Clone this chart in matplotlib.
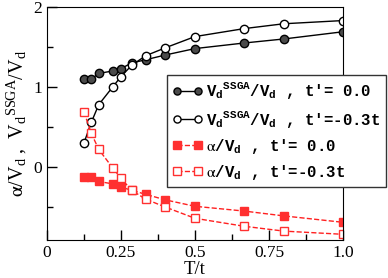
import matplotlib
matplotlib.use("Agg")
import matplotlib.pyplot as plt
from matplotlib.ticker import MultipleLocator

plt.rcParams['font.family'] = 'Liberation Serif'
plt.rcParams['mathtext.fontset'] = 'stix'

T = [0.125, 0.15, 0.175, 0.222, 0.25, 0.286, 0.333, 0.4, 0.5, 0.667, 0.8, 1.0]
vssga_t0 = [1.10, 1.10, 1.17, 1.20, 1.23, 1.30, 1.34, 1.40, 1.48, 1.55, 1.60, 1.69]
vssga_t03 = [0.30, 0.56, 0.78, 1.00, 1.13, 1.27, 1.39, 1.49, 1.63, 1.73, 1.79, 1.83]
alpha_t0 = [-0.12, -0.12, -0.18, -0.21, -0.25, -0.29, -0.34, -0.41, -0.49, -0.55, -0.61, -0.69]
alpha_t03 = [0.69, 0.42, 0.22, -0.01, -0.14, -0.29, -0.40, -0.50, -0.64, -0.74, -0.80, -0.84]

labels = [r"$\mathregular{V_d{}^{SSGA}/V_d}$ , t'= 0.0",
          r"$\mathregular{V_d{}^{SSGA}/V_d}$ , t'=-0.3t",
          r"$\mathrm{\alpha}$$\mathregular{/V_d}$ , t'= 0.0",
          r"$\mathrm{\alpha}$$\mathregular{/V_d}$ , t'=-0.3t"]

fig = plt.figure(figsize=(3.88, 2.78), dpi=100)
ax = fig.add_axes([0.121, 0.137, 0.763, 0.838])

ax.plot(T, vssga_t0, '-o', color='black', lw=1, ms=6, mfc='#4a4a4a', mec='black', label=labels[0])
ax.plot(T, vssga_t03, '-o', color='black', lw=1, ms=6, mfc='white', mec='black', label=labels[1])
ax.plot(T, alpha_t0, '--s', color='#ff2020', lw=1, ms=6, mfc='#ff3030', mec='#ff3030', label=labels[2])
ax.plot(T, alpha_t03, '--s', color='#ff2020', lw=1, ms=6, mfc='white', mec='#ff3030', label=labels[3])

ax.set_xlim(0, 1.0)
ax.set_ylim(-0.91, 2)
ax.set_xticks([0, 0.25, 0.5, 0.75, 1.0])
ax.set_xticklabels(['0', '0.25', '0.5', '0.75', '1.0'])
ax.set_yticks([0, 1, 2])
ax.set_yticklabels(['0', '1', '2'])
ax.xaxis.set_minor_locator(MultipleLocator(0.125))
ax.yaxis.set_minor_locator(MultipleLocator(0.5))
ax.tick_params(which='both', direction='in', top=False, right=False, labelsize=12.5)
ax.tick_params(which='major', length=7, width=1)
ax.tick_params(which='minor', length=4, width=1)

ax.set_xlabel('T/t', fontsize=13.5, labelpad=0)
ax.set_ylabel(r"$\mathrm{\alpha}$$\mathregular{/V_d}$ ,  $\mathregular{V_d{}^{SSGA}/V_d}$",
              fontsize=14.5, labelpad=3)

leg = ax.legend(loc='upper left', bbox_to_anchor=(167 / 388, 1 - 75 / 278),
                bbox_transform=fig.transFigure, borderaxespad=0,
                prop={'family': 'Liberation Mono', 'weight': 'bold', 'size': 11.3},
                fancybox=False, framealpha=1, edgecolor='#333333',
                numpoints=2, markerscale=0.85,
                handlelength=1.9, handletextpad=0.25, labelspacing=0.45,
                borderpad=0.35)
leg.get_frame().set_linewidth(1)

fig.savefig('out.png', dpi=100)
